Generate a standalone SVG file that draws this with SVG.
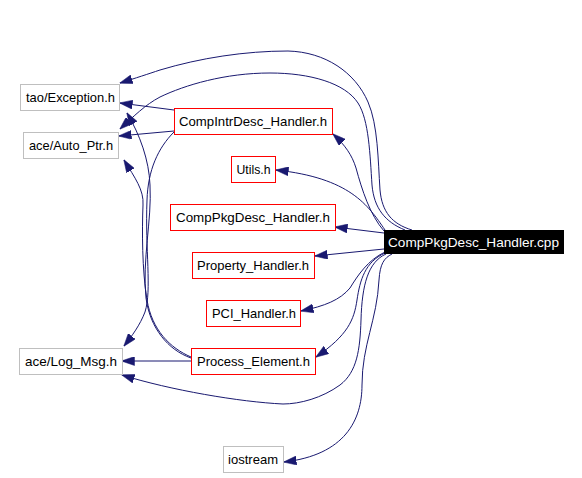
<svg xmlns="http://www.w3.org/2000/svg" width="582" height="478" viewBox="0 0 582 478">
<style>
  .ext rect { fill: #ffffff; stroke: #bfbfbf; stroke-width: 1; }
  .prj rect { fill: #ffffff; stroke: #ff0000; stroke-width: 1; }
  .main rect { fill: #000000; stroke: #000000; stroke-width: 1; }
  text { font-family: "Liberation Sans", Arial, sans-serif; font-size: 13px; fill: #000000; text-anchor: middle; }
  .main text { fill: #ffffff; }
  .edges path { fill: none; stroke: #191970; stroke-width: 1; marker-end: url(#arr); }
</style>
<defs>
  <marker id="arr" markerUnits="userSpaceOnUse" markerWidth="13" markerHeight="9" viewBox="0 0 13 9" refX="12.5" refY="4.5" orient="auto">
    <path d="M0,0 L13,4.5 L0,9 z" fill="#191970" stroke="#191970" stroke-width="0.5"/>
  </marker>
</defs>
<rect width="582" height="478" fill="#ffffff"/>
<g class="edges">
  <path d="M412,230 C392,224 382,212 380,190 C378,160 378,125 368,102 C355,72 325,52 288,51 C245,51 200,58 160,70 C148,74 136,78 120,83"/>
  <path d="M405,230 C385,222 374,208 372,185 C370,155 369,120 358,103 C345,83 310,73 270,73 C225,73 185,85 160,97 C145,105 134,116 120,129"/>
  <path d="M174,110 L120,103"/>
  <path d="M174,131 L119,136"/>
  <path d="M174,132 C158,148 148,170 147,200 C145,250 152,290 145,312 C140,325 132,336 124,346"/>
  <path d="M191,357 C170,348 152,330 147,300 C142,270 142,230 143,205 C144,190 135,178 124,160"/>
  <path d="M191,358 C168,350 150,328 146,298 C142,260 152,220 150,185 C149,160 140,135 127,113"/>
  <path d="M191,361 L122,361"/>
  <path d="M385,230 C368,205 350,178 276,170"/>
  <path d="M384,231 C370,215 362,190 356,168 C352,155 345,145 333,134"/>
  <path d="M384,233 L335,227"/>
  <path d="M384,249 L315,256"/>
  <path d="M385,252 C368,260 358,275 350,288 C340,300 325,306 301,311"/>
  <path d="M385,253 C365,262 360,280 357,300 C354,320 348,335 316,357"/>
  <path d="M386,254 C368,262 362,285 361,320 C360,350 357,372 340,385 C322,398 300,404 283,404 C240,402 170,390 122,375"/>
  <path d="M392,254 C384,258 380,264 379,280 C377,320 362,345 362,385 C362,420 345,455 284,462"/>
</g>
<g id="node-tao-exception" class="ext">
  <rect x="20.5" y="84.5" width="99" height="26"/>
  <text x="70.5" y="102" textLength="89" lengthAdjust="spacingAndGlyphs">tao/Exception.h</text>
</g>
<g id="node-ace-auto-ptr" class="ext">
  <rect x="23.5" y="132.5" width="95" height="26"/>
  <text x="71" y="150" textLength="84" lengthAdjust="spacingAndGlyphs">ace/Auto_Ptr.h</text>
</g>
<g id="node-compintrdesc" class="prj">
  <rect x="174.5" y="108.5" width="158" height="26"/>
  <text x="253" y="126" textLength="148" lengthAdjust="spacingAndGlyphs">CompIntrDesc_Handler.h</text>
</g>
<g id="node-utils" class="prj">
  <rect x="231.5" y="156.5" width="44" height="26"/>
  <text x="253.5" y="174" textLength="34" lengthAdjust="spacingAndGlyphs">Utils.h</text>
</g>
<g id="node-comppkgdesc-h" class="prj">
  <rect x="170.5" y="204.5" width="165" height="26"/>
  <text x="253" y="222" textLength="154" lengthAdjust="spacingAndGlyphs">CompPkgDesc_Handler.h</text>
</g>
<g id="node-comppkgdesc-cpp" class="main">
  <rect x="384.5" y="230.5" width="179" height="23"/>
  <text x="473.5" y="246.5" textLength="171" lengthAdjust="spacingAndGlyphs">CompPkgDesc_Handler.cpp</text>
</g>
<g id="node-property" class="prj">
  <rect x="192.5" y="252.5" width="122" height="26"/>
  <text x="253" y="270" textLength="112" lengthAdjust="spacingAndGlyphs">Property_Handler.h</text>
</g>
<g id="node-pci" class="prj">
  <rect x="206.5" y="300.5" width="94" height="26"/>
  <text x="254" y="318" textLength="84" lengthAdjust="spacingAndGlyphs">PCI_Handler.h</text>
</g>
<g id="node-process-element" class="prj">
  <rect x="191.5" y="348.5" width="124" height="26"/>
  <text x="253.5" y="366" textLength="113" lengthAdjust="spacingAndGlyphs">Process_Element.h</text>
</g>
<g id="node-ace-log-msg" class="ext">
  <rect x="19.5" y="348.5" width="103" height="26"/>
  <text x="71" y="366" textLength="92" lengthAdjust="spacingAndGlyphs">ace/Log_Msg.h</text>
</g>
<g id="node-iostream" class="ext">
  <rect x="223.5" y="446.5" width="60" height="26"/>
  <text x="253" y="464" textLength="50" lengthAdjust="spacingAndGlyphs">iostream</text>
</g>
</svg>
